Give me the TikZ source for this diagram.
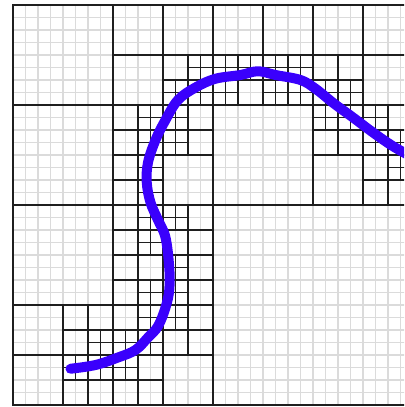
\documentclass[tikz,border=0pt]{standalone}
\definecolor{curveblue}{RGB}{58,0,252}

\begin{document}
\begin{tikzpicture}[x=4.4mm,y=4.4mm,
  fine/.style={draw=black!14,line width=1.6pt},
  quad/.style={draw=black!88,line width=1.3pt},
  front/.style={draw=curveblue,line width=10pt,line cap=round,line join=round},
]
\useasboundingbox (-1.04,-0.16) rectangle (31.28,32.4);
\clip (-1.04,-0.16) rectangle (31.28,32.4);

% fine background grid
\draw[fine] (0,0) grid[step=1] (32,32);

% quadtree: outer cell, then every split cell as (x/y/size)
\draw[quad] (0,0) rectangle (32,32);
\foreach \x/\y/\s in {
    0/0/32,
    0/16/16, 16/16/16, 0/0/16,
    8/24/8, 8/16/8, 16/24/8, 24/24/8, 24/16/8, 8/8/8, 0/0/8, 8/0/8,
    12/24/4, 8/20/4, 12/20/4, 8/16/4, 16/24/4, 20/24/4, 24/24/4,
    24/20/4, 28/20/4, 28/16/4, 8/12/4, 12/12/4, 8/8/4, 12/8/4,
    4/4/4, 4/0/4, 8/4/4, 12/4/4, 8/0/4,
    14/26/2, 12/24/2, 14/24/2, 10/22/2, 10/20/2, 12/22/2, 12/20/2,
    10/18/2, 10/16/2, 16/26/2, 18/26/2, 16/24/2, 20/26/2, 22/26/2,
    20/24/2, 22/24/2, 24/24/2, 26/24/2, 24/22/2, 26/22/2, 28/22/2,
    28/20/2, 30/20/2, 30/18/2, 10/14/2, 10/12/2, 12/14/2,
    10/8/2, 12/10/2, 12/8/2, 6/4/2, 4/2/2, 6/2/2,
    10/6/2, 8/4/2, 10/4/2, 12/6/2, 8/2/2}
  \draw[quad] (\x+\s/2,\y) -- ++(0,\s) (\x,\y+\s/2) -- ++(\s,0);

% the curve
\draw[front] plot[smooth,tension=0.6] coordinates {
  (4.6,2.9) (6.6,3.2) (8.4,3.8) (9.8,4.4) (10.8,5.4) (11.6,6.3)
  (12.2,7.8) (12.5,9.2) (12.5,11.0) (12.2,13.4) (11.6,14.8) (11.0,16.2)
  (10.7,17.8) (10.8,19.4) (11.4,21.2) (12.2,22.8) (13.2,24.4) (14.6,25.4)
  (16.2,26.1) (18.2,26.4) (19.6,26.7) (21.0,26.4) (23.0,26.0) (24.2,25.3)
  (25.7,24.1) (27.2,23.0) (28.8,21.8) (30.4,20.7) (32,19.8)};
\end{tikzpicture}
\end{document}
